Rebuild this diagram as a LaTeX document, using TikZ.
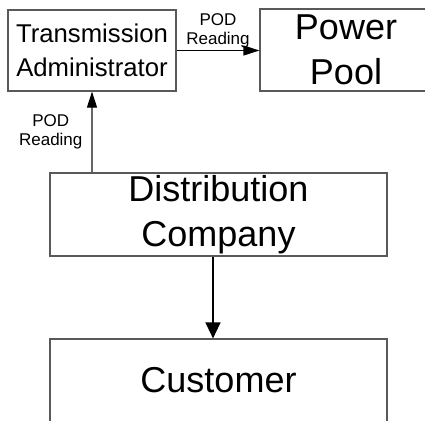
\documentclass[tikz,border=0pt]{standalone}
\usepackage{fontspec}
\setmainfont{Liberation Sans}
\usetikzlibrary{arrows.meta}
\begin{document}
\begin{tikzpicture}[x=1pt,y=-1pt,
  box/.style={draw=black!65, line width=1.2pt, inner sep=0pt, align=center},
  big/.style={font=\fontsize{36}{45}\selectfont},
  mid/.style={font=\fontsize{25.7}{34}\selectfont},
  small/.style={font=\fontsize{17}{19}\selectfont, align=center, inner sep=2pt},
  conn/.style={line width=1.2pt, -{Triangle[length=16pt,width=10pt,color=black,fill=black]}}]
\useasboundingbox (0,0) rectangle (425,420);
\clip (0,0) rectangle (425,420);
% boxes
\node[box, mid, minimum width=168pt, minimum height=81pt] (ta) at (92,50.5) {Transmission\\Administrator};
\node[box, big, minimum width=172pt, minimum height=82pt] (pp) at (346,50) {Power\\Pool};
\node[box, big, minimum width=337pt, minimum height=83pt] (dc) at (218.5,214.5) {Distribution\\Company};
\node[box, big, minimum width=337pt, minimum height=83pt] (cu) at (218.5,380.5) {Customer};
% connectors
\draw[conn] (ta.east) -- node[small, above] (l1) {POD\\Reading} (ta.east -| pp.west);
\draw[conn, draw=black!60] (dc.north -| ta.south) -- node[small, left=7pt] (l2) {POD\\Reading} (ta.south);
\coordinate (dcout) at ([xshift=-5.5pt]dc.south);
\draw[line width=1.4pt, -{Triangle[length=16pt,width=15pt]}] (dcout) -- (dcout |- cu.north);
\end{tikzpicture}
\end{document}
